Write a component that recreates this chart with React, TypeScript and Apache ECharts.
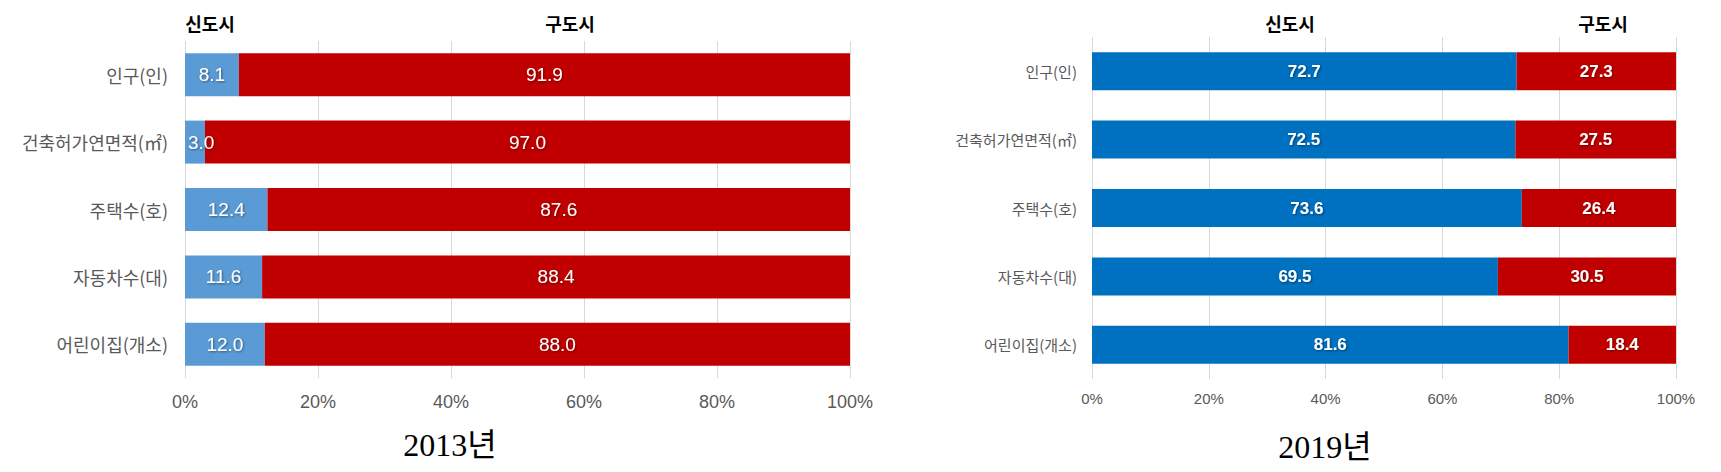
import React, { useEffect, useRef } from "react";
import * as echarts from "echarts";

const categories = ["인구(인)", "건축허가연면적(㎡)", "주택수(호)", "자동차수(대)", "어린이집(개소)"];
const new2013 = [8.1, 3.0, 12.4, 11.6, 12.0];
const old2013 = [91.9, 97.0, 87.6, 88.4, 88.0];
const new2019 = [72.7, 72.5, 73.6, 69.5, 81.6];
const old2019 = [27.3, 27.5, 26.4, 30.5, 18.4];
const xTicks = [0, 20, 40, 60, 80, 100];
const seriesNames = ["신도시", "구도시"];
const yearTitles = ["2013년", "2019년"];

const FONT = "'Noto Sans CJK KR', 'Noto Sans', sans-serif";
const NUM_FONT = "'Liberation Sans', Arial, 'Noto Sans CJK KR', sans-serif";

const App: React.FC = () => {
  const chartRef = useRef<HTMLDivElement>(null);

  useEffect(() => {
    if (!chartRef.current) return;
    const chart = echarts.init(chartRef.current, undefined, { renderer: "svg" });

    const valueLabel = (size: number, weight: string) => ({
      show: true,
      position: "inside",
      color: "#fff",
      fontSize: size,
      fontWeight: weight,
      fontFamily: NUM_FONT,
      textShadowColor: "rgba(0,0,0,0.45)",
      textShadowBlur: 2,
      textShadowOffsetX: 1,
      textShadowOffsetY: 1,
      formatter: (p: any) => Number(p.value).toFixed(1),
    });

    // 아주 짧은 막대는 라벨을 막대 시작점에 붙인다
    const withSmallLabels = (values: number[]) =>
      values.map((v) =>
        v < 5 ? { value: v, label: { position: "insideLeft", distance: 3 } } : v
      );

    const xAxis = (gridIndex: number, size: number, margin: number) => ({
      type: "value",
      gridIndex,
      min: xTicks[0],
      max: xTicks[xTicks.length - 1],
      interval: xTicks[1] - xTicks[0],
      axisLine: { show: false },
      axisTick: { show: false },
      axisLabel: {
        formatter: "{value}%",
        color: "#595959",
        fontSize: size,
        fontFamily: NUM_FONT,
        margin,
      },
      splitLine: { show: true, lineStyle: { color: "#d9d9d9", width: 1 } },
    });

    const yAxis = (gridIndex: number, size: number, margin: number) => ({
      type: "category",
      gridIndex,
      data: categories,
      inverse: true,
      axisLine: { show: false },
      axisTick: { show: false },
      axisLabel: {
        color: "#595959",
        fontSize: size,
        fontFamily: FONT,
        margin,
      },
    });

    const headerText = (x: number, text: string) => ({
      type: "text",
      x,
      y: 23,
      style: {
        text,
        fill: "#000",
        fontSize: 18,
        fontWeight: "bold",
        fontFamily: FONT,
        textAlign: "center",
        textVerticalAlign: "middle",
      },
    });

    const yearText = (x: number, y: number, text: string) => ({
      type: "text",
      x,
      y,
      style: {
        text,
        fill: "#000",
        fontSize: 32,
        fontFamily: "'Liberation Serif', 'Noto Sans CJK KR', serif",
        textAlign: "center",
        textVerticalAlign: "middle",
      },
    });

    chart.setOption({
      animation: false,
      grid: [
        { left: 185, right: 871, top: 41, bottom: 94 },
        { left: 1092, right: 45, top: 37, bottom: 93 },
      ],
      xAxis: [xAxis(0, 18, 15), xAxis(1, 15, 12)],
      yAxis: [yAxis(0, 18, 17), yAxis(1, 15, 15)],
      series: [
        {
          name: seriesNames[0],
          type: "bar",
          stack: "y2013",
          xAxisIndex: 0,
          yAxisIndex: 0,
          barWidth: 43,
          data: withSmallLabels(new2013),
          itemStyle: { color: "#5B9BD5" },
          label: valueLabel(19, "normal"),
        },
        {
          name: seriesNames[1],
          type: "bar",
          stack: "y2013",
          xAxisIndex: 0,
          yAxisIndex: 0,
          barWidth: 43,
          data: old2013,
          itemStyle: { color: "#C00000" },
          label: valueLabel(19, "normal"),
        },
        {
          name: seriesNames[0],
          type: "bar",
          stack: "y2019",
          xAxisIndex: 1,
          yAxisIndex: 1,
          barWidth: 38,
          data: new2019,
          itemStyle: { color: "#0070C0" },
          label: valueLabel(17, "bold"),
        },
        {
          name: seriesNames[1],
          type: "bar",
          stack: "y2019",
          xAxisIndex: 1,
          yAxisIndex: 1,
          barWidth: 38,
          data: old2019,
          itemStyle: { color: "#C00000" },
          label: valueLabel(17, "bold"),
        },
      ],
      graphic: [
        headerText(210, seriesNames[0]),
        headerText(570, seriesNames[1]),
        headerText(1290, seriesNames[0]),
        headerText(1603, seriesNames[1]),
        yearText(450, 445, yearTitles[0]),
        yearText(1325, 447, yearTitles[1]),
      ],
    });

    const handleResize = () => chart.resize();
    window.addEventListener("resize", handleResize);
    return () => {
      window.removeEventListener("resize", handleResize);
      chart.dispose();
    };
  }, []);

  return (
    <div
      ref={chartRef}
      style={{ position: "absolute", left: 0, top: 0, width: "1721px", height: "472px", background: "#fff" }}
    ></div>
  );
};

export default App;
